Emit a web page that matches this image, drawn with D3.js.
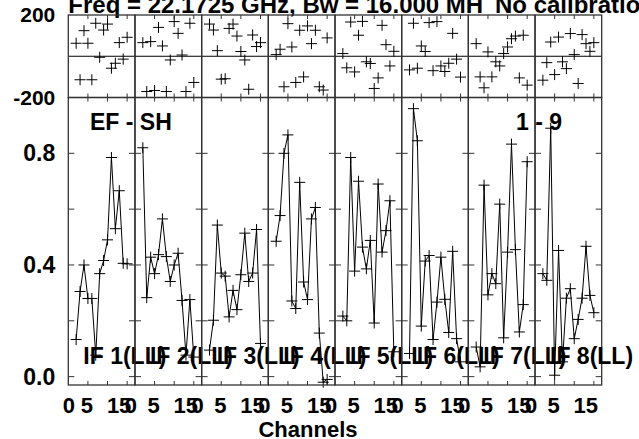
<!DOCTYPE html>
<html><head><meta charset="utf-8">
<script src="https://cdn.jsdelivr.net/npm/d3@7"></script>
<style>
body{margin:0;background:#fff}
svg{display:block}
text{font-family:"Liberation Sans",Arial,Helvetica,sans-serif;font-weight:bold;fill:#000}
</style>
</head><body>
<svg id="c" width="639" height="439"></svg>
<script>
// ---------- data ----------
const channels = [2,3,4,5,6,7,8,9,10,11,12,13,14,15];
const ifNames = ["IF 1(LL)","IF 2(LL)","IF 3(LL)","IF 4(LL)","IF 5(LL)","IF 6(LL)","IF 7(LL)","IF 8(LL)"];

const ampIF1 = [0.133,0.305,0.40,0.28,0.28,0.077,0.369,0.416,0.49,0.785,0.53,0.666,0.406,0.404];
const ampIF2 = [0.82,0.283,0.428,0.369,0.437,0.565,0.43,0.341,0.40,0.442,0.273,0.077,0.276,0.07];
const ampIF3 = [0.095,0.202,0.543,0.371,0.36,0.214,0.309,0.24,0.365,0.514,0.341,0.371,0.527,0.119];
const ampIF4 = [0.485,0.577,0.80,0.866,0.271,0.244,0.696,0.339,0.276,0.565,0.606,0.156,-0.02,-0.01];
const ampIF5 = [0.217,0.20,0.785,0.378,0.70,0.464,0.386,0.488,0.192,0.69,0.446,0.523,0.63,0.089];
const ampIF6 = [0.083,0.96,0.845,0.181,0.414,0.434,0.133,0.267,0.428,0.277,0.158,0.449,0.136,0.053];
const ampIF7 = [0.106,0.035,0.686,0.293,0.369,0.333,0.618,0.139,0.446,0.833,0.455,0.16,0.258,0.77];
const ampIF8 = [0.369,0.345,0.89,0.005,0.452,0.053,0.281,0.315,0.136,0.205,0.281,0.467,0.291,0.229];

const phIF1 = [63,-114,124,63,-114,160,-5,127,156,-58,-34,66,-14,92];
const phIF2 = [66,-171,71,-166,140,50,-171,-18,168,111,6,-171,160,-127];
const phIF3 = [156,127,27,-111,-109,135,156,98,23,-18,-160,103,47,66];
const phIF4 = [8,34,-148,158,45,-127,126,-100,147,61,126,-148,-164,89];
const phIF5 = [13,-56,166,-76,102,169,-27,-35,-156,-105,150,56,-47,24];
const phIF6 = [-66,160,-58,50,23,163,-70,168,-47,-74,-34,111,-14,-101];
const phIF7 = [61,-100,-153,21,-100,-27,-47,13,45,85,98,-105,102,-140];
const phIF8 = [-116,-31,69,-89,93,-27,-60,110,8,-132,105,61,24,66];

const ampTickLabels = [0.0, 0.4, 0.8];
const ampTicks = [0.0, 0.2, 0.4, 0.6, 0.8];
const phaseTickLabels = [-200, 200];
const chTickLabels = [0, 5, 15];
const chTicks = [5, 10, 15];

const titleText = "Freq = 22.1725 GHz, Bw = 16.000 MH";
const titleText2 = "No calibration";
const baselineText = "EF - SH";
const timeText = "1 - 9";
const xTitle = "Channels";

const ampSeries = [ampIF1,ampIF2,ampIF3,ampIF4,ampIF5,ampIF6,ampIF7,ampIF8];
const phSeries = [phIF1,phIF2,phIF3,phIF4,phIF5,phIF6,phIF7,phIF8];

// ---------- layout ----------
const svg = d3.select("#c");
const plotL = 68.3, plotR = 601.7;
const yTop = 15, yMid = 97.5, yBot = 385;

const band = d3.scaleBand().domain(ifNames).range([plotL, plotR]).padding(0);
const W = band.bandwidth();
const xCh = d3.scaleLinear().domain([0, 17]).range([0, W]);
const yPh = d3.scaleLinear().domain([-200, 200]).range([yMid, yTop]);
const yAmp = d3.scaleLinear().domain([-0.03, 1.0]).range([yBot, yMid]);

const ink = "#000";
const frameCol = "#333";

// title (top partly cut by the page edge, as in the reference)
svg.append("text").attr("x", plotL).attr("y", 12.7).attr("font-size", 24).text(titleText);
svg.append("text").attr("x", 495).attr("y", 12.7).attr("font-size", 24).text(titleText2);

const line = d3.line();
const plusPath = "M-5.5,0H5.5M0,-5.5V5.5";

ifNames.forEach((name, i) => {
  const L = band(name);
  const g = svg.append("g").attr("transform", `translate(${L},0)`);

  // zero phase line
  g.append("line").attr("x1", 0).attr("x2", W).attr("y1", yPh(0)).attr("y2", yPh(0))
    .attr("stroke", ink).attr("stroke-width", 1);

  // x ticks
  chTicks.forEach(c => {
    const x = xCh(c);
    [[yTop, 4], [yMid, -4], [yMid, 4], [yBot, -4]].forEach(([y, d]) => {
      g.append("line").attr("x1", x).attr("x2", x).attr("y1", y).attr("y2", y + d)
        .attr("stroke", frameCol).attr("stroke-width", 1);
    });
  });

  // y ticks on amplitude panel (both inner sides)
  ampTicks.forEach(v => {
    const y = yAmp(v);
    g.append("line").attr("x1", 0).attr("x2", 6).attr("y1", y).attr("y2", y).attr("stroke", frameCol);
    g.append("line").attr("x1", W - 6).attr("x2", W).attr("y1", y).attr("y2", y).attr("stroke", frameCol);
  });

  // amplitude line + markers
  const amp = ampSeries[i];
  const ptsA = channels.map((c, k) => [xCh(c), yAmp(amp[k])]);
  g.append("path").attr("d", line(ptsA)).attr("fill", "none").attr("stroke", ink).attr("stroke-width", 1);
  g.selectAll(null).data(ptsA).enter().append("path")
    .attr("d", plusPath).attr("transform", d => `translate(${d[0]},${d[1]})`)
    .attr("stroke", ink).attr("stroke-width", 1).attr("fill", "none");

  // phase markers
  const ph = phSeries[i];
  const ptsP = channels.map((c, k) => [xCh(c), yPh(ph[k])]);
  g.selectAll(null).data(ptsP).enter().append("path")
    .attr("d", plusPath).attr("transform", d => `translate(${d[0]},${d[1]})`)
    .attr("stroke", ink).attr("stroke-width", 1).attr("fill", "none");

  // frames
  g.append("rect").attr("x", 0).attr("y", yTop).attr("width", W).attr("height", yMid - yTop)
    .attr("fill", "none").attr("stroke", frameCol).attr("stroke-width", 1.3);
  g.append("rect").attr("x", 0).attr("y", yMid).attr("width", W).attr("height", yBot - yMid)
    .attr("fill", "none").attr("stroke", frameCol).attr("stroke-width", 1.3);

  // x tick labels
  chTickLabels.forEach(v => {
    let dx = 0;
    if (v === 0) dx = (i === 0) ? 0.5 : -4;
    else if (v === 5) dx = -1;
    else if (v === 15) dx = -8;
    g.append("text").attr("x", xCh(v) + dx).attr("y", 413.3)
      .attr("text-anchor", "middle").attr("font-size", 22).text(v);
  });

  // IF label
  g.append("text").attr("x", 15).attr("y", 364).attr("font-size", 23).text(name);
});

// y axis labels via d3 axes
const ampAxis = d3.axisLeft(yAmp).tickValues(ampTickLabels).tickFormat(d3.format(".1f"))
  .tickSize(0).tickPadding(13);
svg.append("g").attr("transform", `translate(${plotL},0)`).call(ampAxis)
  .call(g => g.select(".domain").remove())
  .selectAll("text").attr("font-size", 23).attr("font-family", null).style("font-weight", "bold").attr("fill", "#000");

const phAxis = d3.axisLeft(yPh).tickValues(phaseTickLabels).tickFormat(d => String(d))
  .tickSize(0).tickPadding(13);
svg.append("g").attr("transform", `translate(${plotL},0)`).call(phAxis)
  .call(g => g.select(".domain").remove())
  .selectAll("text").attr("font-size", 21).attr("font-family", null).style("font-weight", "bold").attr("fill", "#000");

// labels
svg.append("text").attr("x", 90).attr("y", 130).attr("font-size", 23).text(baselineText);
svg.append("text").attr("x", 516).attr("y", 130).attr("font-size", 23).text(timeText);
svg.append("text").attr("x", 308).attr("y", 436.5).attr("text-anchor", "middle").attr("font-size", 22).text(xTitle);
</script>
</body></html>
